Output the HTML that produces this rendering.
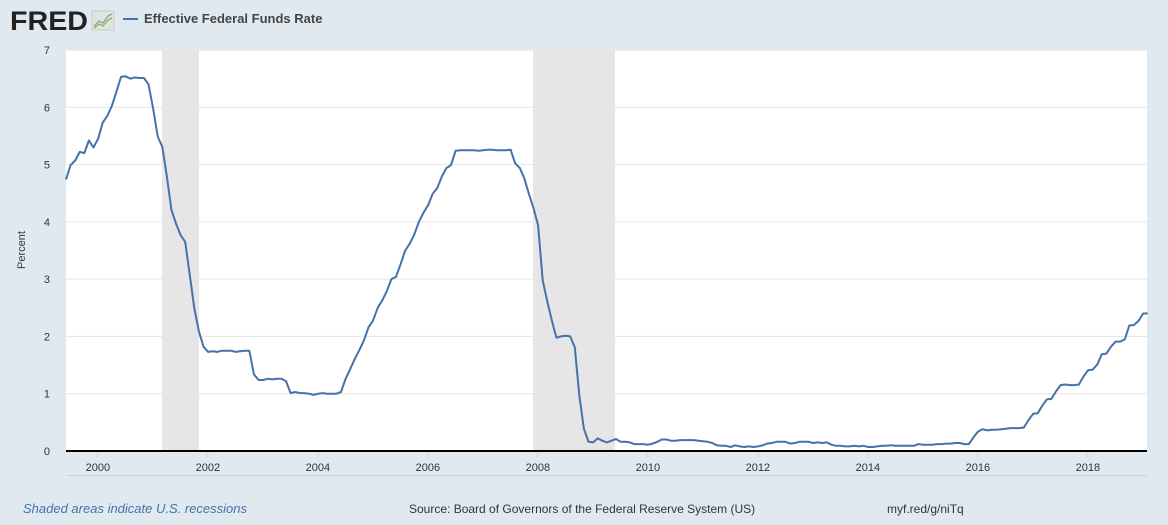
<!DOCTYPE html>
<html><head><meta charset="utf-8"><style>
body{margin:0;width:1168px;height:520px;background:#e1e9f0;font-family:"Liberation Sans",sans-serif;overflow:hidden}
</style></head><body>
<svg width="1168" height="520" xmlns="http://www.w3.org/2000/svg" font-family="Liberation Sans, sans-serif">
<rect width="1168" height="520" fill="#e1e9f0"/>
<text x="10" y="30" font-size="27" font-weight="bold" fill="#222" textLength="78" lengthAdjust="spacingAndGlyphs">FRED</text>
<rect x="92" y="11" width="22" height="19" fill="#dfe5dc" stroke="#c8cfc6"/>
<polyline points="94,26 99,21 103,23 108,16 112,14" fill="none" stroke="#7aa3c8" stroke-width="1.3"/>
<polyline points="94,28 99,24 103,26 108,20 112,18" fill="none" stroke="#8ab04a" stroke-width="1.3"/>
<line x1="123" y1="19" x2="138" y2="19" stroke="#4572a7" stroke-width="2"/>
<text x="144" y="23" font-size="13" font-weight="bold" fill="#444">Effective Federal Funds Rate</text>
<rect x="66" y="50" width="1081" height="401" fill="#fff"/>
<rect x="162" y="50" width="37" height="401" fill="#e6e6e6"/>
<rect x="533" y="50" width="82" height="401" fill="#e6e6e6"/>
<g stroke="#e6e6e6" stroke-width="1" id="grid"></g>
<g font-size="11" fill="#333" text-anchor="end" id="ylab"></g>
<g font-size="11" fill="#333" text-anchor="middle" id="xlab"></g>
<text x="25" y="250" font-size="11" fill="#333" text-anchor="middle" transform="rotate(-90 25 250)">Percent</text>
<path id="ser" fill="none" stroke="#4572a7" stroke-width="2" stroke-linejoin="round"/>
<line x1="66" y1="451" x2="1147" y2="451" stroke="#000" stroke-width="2"/>
<line x1="66" y1="475.5" x2="1147" y2="475.5" stroke="#c6d5e3" stroke-width="1"/>
<text x="23" y="513" font-size="13" font-style="italic" fill="#4572a7">Shaded areas indicate U.S. recessions</text>
<text x="409" y="513" font-size="12" fill="#333">Source: Board of Governors of the Federal Reserve System (US)</text>
<text x="887" y="513" font-size="12" fill="#333">myf.red/g/niTq</text>
</svg>
<script>
var NS="http://www.w3.org/2000/svg";
function el(t,a,p){var e=document.createElementNS(NS,t);for(var k in a)e.setAttribute(k,a[k]);document.getElementById(p).appendChild(e);return e;}
function Y(v){return 451-v*57.29;}
function X(t){return 66+(t-1999.42)*55;}
for(var i=0;i<=7;i++){var y=Y(i);if(i>0)el("line",{x1:66,x2:1147,y1:y,y2:y},"grid");var t=el("text",{x:50,y:y+4},"ylab");t.textContent=i;}
for(var yr=2000;yr<=2018;yr+=2){var x=X(yr);el("line",{x1:x,x2:x,y1:452,y2:458,stroke:"#c6d5e3"},"grid");var t=el("text",{x:x,y:471},"xlab");t.textContent=yr;}
var d=[4.74,4.99,5.07,5.22,5.20,5.42,5.30,
5.45,5.73,5.85,6.02,6.27,6.53,6.54,6.50,6.52,6.51,6.51,6.40,
5.98,5.49,5.31,4.80,4.21,3.97,3.77,3.65,3.07,2.49,2.09,1.82,
1.73,1.74,1.73,1.75,1.75,1.75,1.73,1.74,1.75,1.75,1.34,1.24,
1.24,1.26,1.25,1.26,1.26,1.22,1.01,1.03,1.01,1.01,1.00,0.98,
1.00,1.01,1.00,1.00,1.00,1.03,1.26,1.43,1.61,1.76,1.93,2.16,
2.28,2.50,2.63,2.79,3.00,3.04,3.26,3.50,3.62,3.78,4.00,4.16,
4.29,4.49,4.59,4.79,4.94,4.99,5.24,5.25,5.25,5.25,5.25,5.24,
5.25,5.26,5.26,5.25,5.25,5.25,5.26,5.02,4.94,4.76,4.49,4.24,
3.94,2.98,2.61,2.28,1.98,2.00,2.01,2.00,1.81,0.97,0.39,0.16,
0.15,0.22,0.18,0.15,0.18,0.21,0.16,0.16,0.15,0.12,0.12,0.12,
0.11,0.13,0.16,0.20,0.20,0.18,0.18,0.19,0.19,0.19,0.19,0.18,
0.17,0.16,0.14,0.10,0.09,0.09,0.07,0.10,0.08,0.07,0.08,0.07,
0.08,0.10,0.13,0.14,0.16,0.16,0.16,0.13,0.14,0.16,0.16,0.16,
0.14,0.15,0.14,0.15,0.11,0.09,0.09,0.08,0.08,0.09,0.08,0.09,
0.07,0.07,0.08,0.09,0.09,0.10,0.09,0.09,0.09,0.09,0.09,0.12,
0.11,0.11,0.11,0.12,0.12,0.13,0.13,0.14,0.14,0.12,0.12,0.24,
0.34,0.38,0.36,0.37,0.37,0.38,0.39,0.40,0.40,0.40,0.41,0.54,
0.65,0.66,0.79,0.90,0.91,1.04,1.15,1.16,1.15,1.15,1.16,1.30,
1.41,1.42,1.51,1.69,1.70,1.82,1.91,1.91,1.95,2.19,2.20,2.27,
2.40,2.40];
var p="";for(var i=0;i<d.length;i++){p+=(i?"L":"M")+X(1999.42+i/12).toFixed(1)+","+Y(d[i]).toFixed(1);}
document.getElementById("ser").setAttribute("d",p);
</script>
</body></html>
